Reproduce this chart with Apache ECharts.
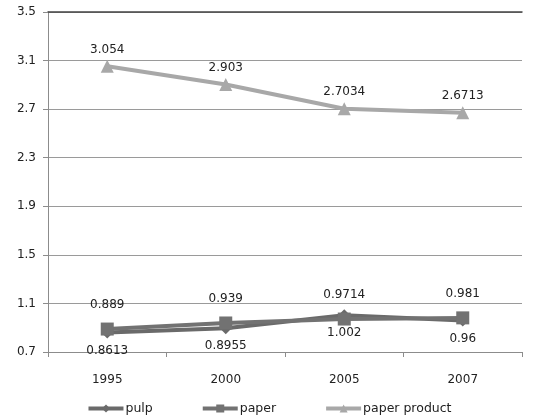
<!DOCTYPE html>
<html><head><meta charset="utf-8">
<script src="https://cdn.jsdelivr.net/npm/echarts@6/dist/echarts.min.js"></script>
<style>html,body{margin:0;padding:0;background:#fff}#c{width:538px;height:419px}</style>
</head><body><div id="c"></div>
<script>
var categories = ['1995','2000','2005','2007'];
var pulp = [0.8613, 0.8955, 1.002, 0.96];
var paper = [0.889, 0.939, 0.9714, 0.981];
var paperProduct = [3.054, 2.903, 2.7034, 2.6713];
var yTicks = ['0.7','1.1','1.5','1.9','2.3','2.7','3.1','3.5'];

var font = 'DejaVu Sans';
var chart = echarts.init(document.getElementById('c'));
chart.setOption({
  animation: false,
  textStyle: {fontFamily: font},
  grid: {left: 48, right: 16, top: 12, bottom: 67},
  legend: {
    bottom: -1, left: 'center', itemGap: 48, itemWidth: 35, itemHeight: 10,
    lineStyle: {width: 4},
    textStyle: {fontFamily: font, fontSize: 12.5, color: '#222', padding: [0,0,0,-3]},
    data: ['pulp','paper','paper product']
  },
  xAxis: [{
    type: 'category', data: categories, boundaryGap: true,
    axisLine: {lineStyle: {color: '#8c8c8c', width: 1}},
    axisTick: {show: true, length: 5, lineStyle: {color: '#8c8c8c'}},
    axisLabel: {color: '#222', fontSize: 12, margin: 22, fontFamily: font}
  }, {
    type: 'category', data: categories, position: 'top',
    axisLine: {lineStyle: {color: '#444', width: 1.5}},
    axisTick: {show: false}, axisLabel: {show: false}
  }],
  yAxis: {
    type: 'value', min: 0.7, max: 3.5, interval: 0.4,
    axisLine: {show: true, lineStyle: {color: '#8c8c8c'}},
    axisTick: {show: true, inside: false, length: 5, lineStyle: {color: '#8c8c8c'}},
    splitLine: {lineStyle: {color: '#9a9a9a'}},
    axisLabel: {color: '#222', fontSize: 12, margin: 12, fontFamily: font,
      formatter: function(v){ var s = v.toFixed(1); return yTicks.indexOf(s) >= 0 ? s : ''; }}
  },
  series: [
    {name:'pulp', type:'line', data: pulp, symbol:'diamond', symbolSize: 12,
      lineStyle:{color:'#6a6a6a', width:4}, itemStyle:{color:'#6a6a6a'},
      label:{show:true, position:'bottom', distance: 6, color:'#222', fontSize:12, fontFamily: font}},
    {name:'paper', type:'line', data: paper, symbol:'rect', symbolSize: 13,
      lineStyle:{color:'#727272', width:4}, itemStyle:{color:'#727272'},
      label:{show:true, position:'top', distance: 12, color:'#222', fontSize:12, fontFamily: font}},
    {name:'paper product', type:'line', data: paperProduct, symbol:'triangle', symbolSize: 13,
      lineStyle:{color:'#a8a8a8', width:4}, itemStyle:{color:'#a8a8a8'},
      label:{show:true, position:'top', distance: 4, color:'#222', fontSize:12, fontFamily: font}}
  ]
});
</script></body></html>
